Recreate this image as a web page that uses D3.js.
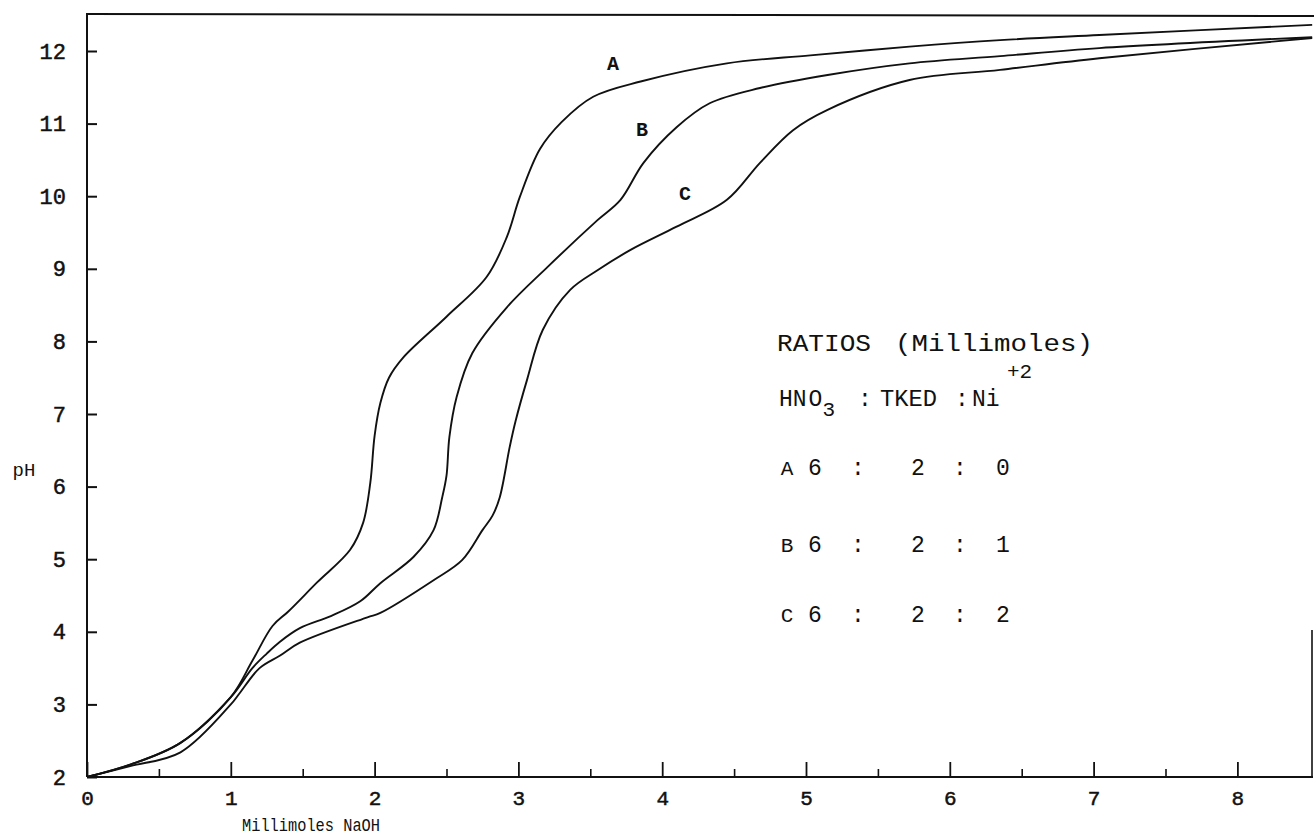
<!DOCTYPE html>
<html>
<head>
<meta charset="utf-8">
<script src="https://cdn.jsdelivr.net/npm/d3@7"></script>
<style>
  html, body { margin: 0; padding: 0; background: #fff; }
  svg { display: block; }
  text { font-family: "Liberation Mono", "DejaVu Sans Mono", monospace; fill: #111; }
</style>
</head>
<body>
<svg id="chart" width="1314" height="839"></svg>
<script>
// ---- data ----
const xMajorTicks = [0, 1, 2, 3, 4, 5, 6, 7, 8];
const xMinorTicks = [0.5, 1.5, 2.5, 3.5, 4.5, 5.5, 6.5, 7.5];
const yTicks = [2, 3, 4, 5, 6, 7, 8, 9, 10, 11, 12];

const curveA_x = [0, 0.3, 0.65, 1.0, 1.15, 1.29, 1.4, 1.6, 1.83, 1.92, 1.97, 2.0, 2.04, 2.1, 2.2, 2.5, 2.78, 2.92, 3.01, 3.15, 3.3, 3.52, 3.85, 4.45, 5.03, 5.72, 6.35, 7.04, 8.52];
const curveA_y = [2.0, 2.17, 2.47, 3.1, 3.6, 4.08, 4.28, 4.68, 5.13, 5.5, 6.05, 6.7, 7.15, 7.5, 7.78, 8.34, 8.89, 9.44, 9.99, 10.65, 11.02, 11.37, 11.58, 11.83, 11.94, 12.06, 12.15, 12.22, 12.36];

const curveB_x = [0, 0.3, 0.65, 1.0, 1.15, 1.25, 1.34, 1.48, 1.7, 1.9, 2.04, 2.27, 2.41, 2.47, 2.5, 2.52, 2.57, 2.68, 2.92, 3.2, 3.55, 3.71, 3.87, 4.1, 4.33, 4.68, 5.15, 5.72, 6.35, 7.04, 8.52];
const curveB_y = [2.0, 2.17, 2.47, 3.1, 3.5, 3.7, 3.86, 4.05, 4.22, 4.42, 4.67, 5.03, 5.4, 5.85, 6.15, 6.68, 7.23, 7.84, 8.47, 9.02, 9.67, 9.95, 10.46, 10.95, 11.28, 11.49, 11.67, 11.83, 11.93, 12.04, 12.19];

const curveC_x = [0, 0.3, 0.65, 1.0, 1.06, 1.2, 1.34, 1.48, 1.95, 2.04, 2.41, 2.61, 2.75, 2.82, 2.87, 2.94, 2.98, 3.06, 3.17, 3.36, 3.55, 3.78, 4.1, 4.45, 4.68, 4.91, 5.15, 5.72, 6.35, 7.04, 8.52];
const curveC_y = [2.0, 2.15, 2.34, 3.0, 3.15, 3.5, 3.67, 3.85, 4.2, 4.26, 4.71, 4.99, 5.4, 5.6, 5.85, 6.55, 6.9, 7.47, 8.16, 8.71, 8.98, 9.26, 9.58, 9.95, 10.46, 10.91, 11.19, 11.6, 11.74, 11.9, 12.18];

const curveNames = ["A", "B", "C"];
const ratioRows = [
  ["A", "6", "2", "0"],
  ["B", "6", "2", "1"],
  ["C", "6", "2", "2"]
];

// ---- layout ----
const svg = d3.select("#chart");
const pLeft = 87, pRight = 1312, pBottom = 777, pTop = 14;
const x = d3.scaleLinear().domain([0, (pRight - pLeft) / 143.8]).range([pLeft, pRight]);
const y = d3.scaleLinear().domain([2, 2 + (pBottom - pTop) / 72.6]).range([pBottom, pTop]);

// frame lines
svg.append("line").attr("x1", pLeft).attr("x2", pLeft).attr("y1", pTop - 1).attr("y2", pBottom)
  .attr("stroke", "#111").attr("stroke-width", 2);
svg.append("line").attr("x1", pLeft).attr("x2", pRight + 1).attr("y1", pBottom).attr("y2", pBottom)
  .attr("stroke", "#111").attr("stroke-width", 2);
svg.append("line").attr("x1", pLeft).attr("x2", 1314).attr("y1", pTop).attr("y2", pTop + 2)
  .attr("stroke", "#111").attr("stroke-width", 2);
svg.append("line").attr("x1", pRight).attr("x2", pRight).attr("y1", 630).attr("y2", pBottom)
  .attr("stroke", "#111").attr("stroke-width", 1.6);

// x axis (ticks pointing inward/up)
const gx = svg.append("g").attr("transform", `translate(0,${pBottom})`)
  .call(d3.axisBottom(x).tickValues(xMajorTicks).tickSize(-15).tickPadding(13).tickFormat(d3.format("d")));
gx.select(".domain").remove();
gx.selectAll(".tick line").attr("stroke", "#111").attr("stroke-width", 1.8);
gx.selectAll(".tick text").attr("font-size", 21).attr("font-family", "Liberation Mono, monospace")
  .attr("fill", "#111").attr("stroke", "#111").attr("stroke-width", 0.5);

const gxm = svg.append("g").attr("transform", `translate(0,${pBottom})`)
  .call(d3.axisBottom(x).tickValues(xMinorTicks).tickSize(-8).tickFormat(""));
gxm.select(".domain").remove();
gxm.selectAll(".tick line").attr("stroke", "#111").attr("stroke-width", 1.6);

// y axis (ticks pointing inward/right)
const gy = svg.append("g").attr("transform", `translate(${pLeft},0)`)
  .call(d3.axisLeft(y).tickValues(yTicks).tickSize(-10).tickPadding(21).tickFormat(d3.format("d")));
gy.select(".domain").remove();
gy.selectAll(".tick line").attr("stroke", "#111").attr("stroke-width", 2);
gy.selectAll(".tick text").attr("font-size", 22).attr("font-family", "Liberation Mono, monospace")
  .attr("fill", "#111").attr("stroke", "#111").attr("stroke-width", 0.5);

// axis titles
svg.append("text").attr("x", 311).attr("y", 831).attr("text-anchor", "middle")
  .attr("font-size", 19).attr("textLength", 138).attr("lengthAdjust", "spacingAndGlyphs")
  .text("Millimoles  NaOH");
svg.append("text").attr("x", 24).attr("y", 476).attr("text-anchor", "middle")
  .attr("font-size", 19).text("pH");

// curves
const line = d3.line().x(d => x(d[0])).y(d => y(d[1])).curve(d3.curveCatmullRom.alpha(0.5));
const series = [
  d3.zip(curveA_x, curveA_y),
  d3.zip(curveB_x, curveB_y),
  d3.zip(curveC_x, curveC_y)
];
svg.append("g").selectAll("path").data(series).join("path")
  .attr("d", line).attr("fill", "none").attr("stroke", "#111")
  .attr("stroke-width", 1.9).attr("stroke-linejoin", "round");

// curve labels
const labelPos = [[613, 70], [642, 136], [685, 200]];
svg.append("g").selectAll("text").data(curveNames).join("text")
  .attr("x", (d, i) => labelPos[i][0]).attr("y", (d, i) => labelPos[i][1])
  .attr("text-anchor", "middle").attr("font-size", 20).attr("font-weight", "bold").text(d => d);

// legend block
const lg = svg.append("g").attr("font-size", 23);
lg.append("text").attr("x", 777).attr("y", 351).attr("textLength", 94).attr("lengthAdjust", "spacingAndGlyphs").text("RATIOS");
lg.append("text").attr("x", 895).attr("y", 351).attr("textLength", 198).attr("lengthAdjust", "spacingAndGlyphs").text("(Millimoles)");

const hno = lg.append("text").attr("x", 779).attr("y", 406);
hno.append("tspan").text("HN");
hno.append("tspan").attr("dx", 2).text("O");
hno.append("tspan").attr("dy", 10).attr("font-size", 21).text("3");
lg.append("text").attr("x", 865).attr("y", 406).attr("text-anchor", "middle").text(":");
lg.append("text").attr("x", 880).attr("y", 406).attr("textLength", 57).attr("lengthAdjust", "spacingAndGlyphs").text("TKED");
lg.append("text").attr("x", 962).attr("y", 406).attr("text-anchor", "middle").text(":");
lg.append("text").attr("x", 972).attr("y", 406).text("Ni");
lg.append("text").attr("x", 1007).attr("y", 378).attr("font-size", 21).text("+2");

const rowY = [475, 552, 622];
const colX = [787, 815, 858, 918, 960, 1003];
ratioRows.forEach((r, i) => {
  const items = [r[0], r[1], ":", r[2], ":", r[3]];
  items.forEach((t, j) => {
    lg.append("text").attr("x", colX[j]).attr("y", rowY[i]).attr("text-anchor", "middle")
      .attr("font-size", j === 0 ? 21 : 23).text(t);
  });
});
</script>
</body>
</html>
